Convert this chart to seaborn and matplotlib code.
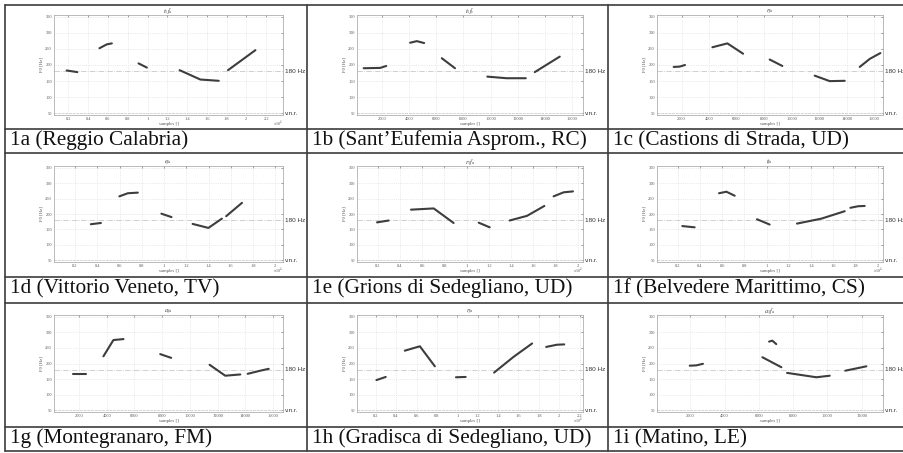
import numpy as np
import pandas as pd
import matplotlib
matplotlib.use("Agg")
import matplotlib.pyplot as plt
from matplotlib.lines import Line2D
from matplotlib.ticker import FixedLocator, FuncFormatter
import seaborn as sns

# ---------------- data ----------------
captions = ["1a (Reggio Calabria)", "1b (Sant’Eufemia Asprom., RC)", "1c (Castions di Strada, UD)",
            "1d (Vittorio Veneto, TV)", "1e (Grions di Sedegliano, UD)", "1f (Belvedere Marittimo, CS)",
            "1g (Montegranaro, FM)", "1h (Gradisca di Sedegliano, UD)", "1i (Matino, LE)"]
titles = [r"$t_1f_a$", r"$t_1f_s$", r"$r_{fa}$", r"$e_{fa}$", r"$r_1f_a$", r"$t_{fa}$",
          r"$a_{fa}$", r"$r_{fa}$", r"$a_1f_a$"]
y_ticks = [50, 100, 150, 200, 250, 300, 350]
ref_hz = 180
ref_label = "180 Hz"
floor_label = "v.n.r."
ylabel = "F0 [Hz]"
xlabel = "samples []"

x_1a = [[1820, 2900], [5140, 5880, 6390], [9090, 9930], [13240, 15340, 17200], [18140, 20910]]
y_1a = [[183, 178], [252, 264, 267], [205, 192], [184, 155, 151], [184, 246]]
x_1b = [[660, 1880, 2320], [4080, 4570, 5110], [6410, 7380], [9760, 11170, 12590], [13250, 15090]]
y_1b = [[190, 191, 197], [269, 274, 268], [221, 190], [164, 159, 159], [178, 226]]
x_1c = [[1430, 1860, 2250], [4240, 5330, 6470], [8400, 9320], [11670, 12760, 13850], [14940, 15670, 16440]]
y_1c = [[194, 195, 200], [255, 267, 235], [217, 197], [167, 150, 151], [194, 219, 237]]
x_1d = [[3410, 4320], [5980, 6740, 7640], [9760, 10670], [12570, 13990, 15200], [15590, 17010]]
y_1d = [[167, 171], [257, 267, 269], [201, 190], [168, 155, 185], [193, 236]]
x_1e = [[1950, 3000], [5000, 7040, 8830], [11080, 12070], [13860, 15420, 16980], [17810, 18710, 19550]]
y_1e = [[173, 179], [214, 218, 171], [172, 157], [179, 194, 226], [257, 270, 273]]
x_1f = [[2400, 3510], [5710, 6370, 7120], [9130, 10270], [12730, 14930, 17030], [17540, 18230, 18830]]
y_1f = [[161, 157], [267, 272, 259], [183, 166], [169, 185, 209], [220, 225, 226]]
x_1g = [[1590, 2510], [3760, 4480, 5210], [7860, 8650], [11420, 12550, 13640], [14170, 15080, 15690]]
y_1g = [[166, 166], [223, 275, 278], [230, 218], [196, 161, 165], [167, 177, 183]]
x_1h = [[2070, 2980], [4850, 6330, 7800], [9870, 10820], [13610, 15510, 17340], [18720, 19770, 20490]]
y_1h = [[147, 157], [241, 255, 191], [156, 157], [171, 221, 264], [253, 260, 261]]
x_1i = [[1970, 2350, 2740], [6600, 6790, 7020], [6210, 7320], [7650, 9360, 10140], [11050, 12280]]
y_1i = [[193, 194, 199], [270, 273, 262], [220, 188], [170, 156, 161], [177, 191]]

xlim_list = [[540, 23700], [170, 16800], [218, 16630], [100, 20700], [150, 20450],
             [120, 20480], [193, 16720], [164, 22330], [58, 13250]]
scaled = [True, False, False, True, True, True, False, True, False]

panel_x = [x_1a, x_1b, x_1c, x_1d, x_1e, x_1f, x_1g, x_1h, x_1i]
panel_y = [y_1a, y_1b, y_1c, y_1d, y_1e, y_1f, y_1g, y_1h, y_1i]

# ---------------- layout (pixels) ----------------
W, H = 904, 453
AX_L = [54, 357, 657]
AX_R = [283, 583, 883]
AX_T = [15, 166, 315]
AX_B = [115, 262, 412]
COL_X = [5, 307, 608]
H_LINES = [5, 129, 153, 277, 303, 427, 451]
CAP_SEP = [129, 277, 427]

sns.set_style("white")
plt.rcParams['font.family'] = ['Liberation Serif', 'DejaVu Serif']
plt.rcParams['mathtext.fontset'] = 'stix'

fig = plt.figure(figsize=(W / 100, H / 100), dpi=100)
fig.patch.set_facecolor("white")

def fx(px):
    return px / W

def fy(py):
    return 1 - py / H

line_col = "#3d3d3d"

for i in range(9):
    r, c = divmod(i, 3)
    ax_h = AX_B[r] - AX_T[r]
    ax = fig.add_axes([fx(AX_L[c]), fy(AX_B[r]), fx(AX_R[c] - AX_L[c]), ax_h / H])
    rows = []
    for k, (xs, ys) in enumerate(zip(panel_x[i], panel_y[i])):
        for xv, yv in zip(xs, ys):
            rows.append({"x": xv, "y": yv, "seg": k})
    df = pd.DataFrame(rows)
    ax.axhline(ref_hz, color="#c8c8c8", ls="-.", lw=0.6, zorder=1)
    ax.axhline(y_ticks[0], color="#c8c8c8", ls="--", lw=0.5, zorder=1)
    sns.lineplot(data=df, x="x", y="y", units="seg", estimator=None, sort=False,
                 color=line_col, lw=1.5, ax=ax, legend=False, zorder=3)
    ax.set_xlim(*xlim_list[i])
    ax.set_ylim(45, 355)
    ax.yaxis.set_major_locator(FixedLocator(y_ticks))
    ax.xaxis.set_major_locator(FixedLocator(list(range(2000, 24001, 2000))))
    if scaled[i]:
        ax.xaxis.set_major_formatter(FuncFormatter(lambda v, p: f"{v / 1e4:g}"))
        ax.text(1.0, -9.0 / ax_h, r"$\times10^4$", transform=ax.transAxes, ha="right", va="center",
                fontsize=3.0, color="#555555")
    else:
        ax.xaxis.set_major_formatter(FuncFormatter(lambda v, p: f"{int(v)}"))
    ax.grid(True, color="#d8d8d8", ls=":", lw=0.5)
    ax.tick_params(direction="in", length=1.5, width=0.4, labelsize=3.2, pad=1.5,
                   colors="#555555", top=True, right=True)
    for s in ax.spines.values():
        s.set_color("#a0a0a0")
        s.set_linewidth(0.5)
    ax.set_xlabel(xlabel, fontsize=3.4, labelpad=0.5, color="#555555")
    ax.set_ylabel(ylabel, fontsize=3.4, labelpad=1, color="#555555")
    ax.set_title(titles[i], fontsize=4.5, pad=1.5, color="#333333")
    # right-side labels
    ax.text(1.01, ref_hz, ref_label, transform=ax.get_yaxis_transform(), ha="left", va="center",
            fontsize=4.6, color="#333333", family=["Liberation Sans", "DejaVu Sans"])
    ax.text(1.01, y_ticks[0], floor_label, transform=ax.get_yaxis_transform(), ha="left", va="center",
            fontsize=4.6, color="#333333", family=["Liberation Sans", "DejaVu Sans"])
    # caption
    fig.text(fx(COL_X[c] + 5), fy(CAP_SEP[r] + 16), captions[i], ha="left", va="baseline",
             fontsize=15.3, color="#111111")

# table lines
for yy in H_LINES:
    fig.add_artist(Line2D([fx(5), 1.0], [fy(yy), fy(yy)], color="#3c3c3c", lw=1.2))
for xx in COL_X:
    fig.add_artist(Line2D([fx(xx), fx(xx)], [fy(5), fy(451)], color="#3c3c3c", lw=1.2))

fig.savefig("out.png", dpi=100, facecolor="white")
